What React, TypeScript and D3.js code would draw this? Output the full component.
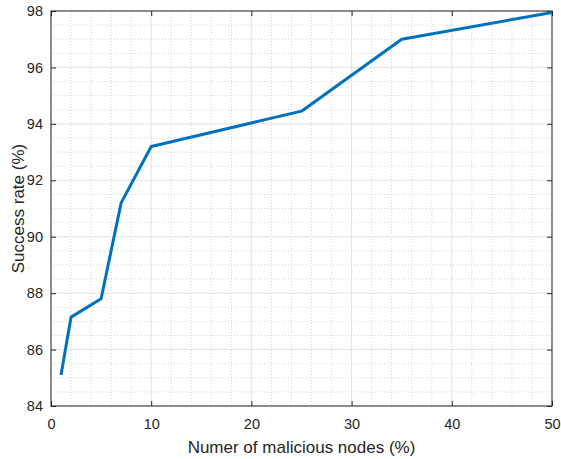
import React, { useEffect, useRef } from 'react';
import * as d3 from 'd3';

const maliciousNodes = [1, 2, 5, 7, 10, 25, 35, 50];
const successRate = [85.1, 87.15, 87.8, 91.2, 93.2, 94.45, 97.0, 97.95];
const xTicks = [0, 10, 20, 30, 40, 50];
const yTicks = [84, 86, 88, 90, 92, 94, 96, 98];

const App = () => {
  const svgRef = useRef<SVGSVGElement>(null);

  useEffect(() => {
    const width = 561;
    const height = 459;
    const margin = { top: 11, right: 9, bottom: 53, left: 51 };
    const w = width - margin.left - margin.right;
    const h = height - margin.top - margin.bottom;

    d3.select(svgRef.current).selectAll('*').remove();
    const svg = d3.select(svgRef.current)
      .attr('width', width)
      .attr('height', height)
      .append('g')
      .attr('transform', `translate(${margin.left},${margin.top})`);

    const x = d3.scaleLinear().domain([0, 50]).range([0, w]);
    const y = d3.scaleLinear().domain([84, 98]).range([h, 0]);

    // minor grid (dotted)
    const xMinor = d3.range(0, 50.01, 2).filter(v => v % 10 !== 0);
    const yMinor = d3.range(84, 98.01, 0.5).filter(v => v % 2 !== 0);
    svg.append('g').selectAll('line').data(xMinor).enter().append('line')
      .attr('x1', d => x(d)).attr('x2', d => x(d)).attr('y1', 0).attr('y2', h)
      .attr('stroke', '#d4d4d4').attr('stroke-width', 1).attr('stroke-dasharray', '1,2');
    svg.append('g').selectAll('line').data(yMinor).enter().append('line')
      .attr('x1', 0).attr('x2', w).attr('y1', d => y(d)).attr('y2', d => y(d))
      .attr('stroke', '#d4d4d4').attr('stroke-width', 1).attr('stroke-dasharray', '1,2');

    // major grid
    svg.append('g').selectAll('line').data(xTicks).enter().append('line')
      .attr('x1', d => x(d)).attr('x2', d => x(d)).attr('y1', 0).attr('y2', h)
      .attr('stroke', '#e3e3e3').attr('stroke-width', 1);
    svg.append('g').selectAll('line').data(yTicks).enter().append('line')
      .attr('x1', 0).attr('x2', w).attr('y1', d => y(d)).attr('y2', d => y(d))
      .attr('stroke', '#e3e3e3').attr('stroke-width', 1);

    // axes, ticks inside, box on
    const font = "'Liberation Sans', Arial, sans-serif";
    const axisColor = '#262626';
    const styleAxis = (g: any) => {
      g.select('.domain').remove();
      g.selectAll('.tick line').attr('stroke', axisColor);
      g.selectAll('.tick text').attr('fill', axisColor).style('font-family', font).style('font-size', '14.5px');
    };

    svg.append('g').attr('transform', `translate(0,${h})`)
      .call(d3.axisBottom(x).tickValues(xTicks).tickSizeInner(-5).tickSizeOuter(0).tickPadding(13))
      .call(styleAxis);
    svg.append('g')
      .call(d3.axisTop(x).tickValues(xTicks).tickSizeInner(-5).tickSizeOuter(0).tickFormat(() => ''))
      .call(styleAxis);
    svg.append('g')
      .call(d3.axisLeft(y).tickValues(yTicks).tickSizeInner(-5).tickSizeOuter(0).tickPadding(8))
      .call(styleAxis);
    svg.append('g').attr('transform', `translate(${w},0)`)
      .call(d3.axisRight(y).tickValues(yTicks).tickSizeInner(-5).tickSizeOuter(0).tickFormat(() => ''))
      .call(styleAxis);

    svg.append('rect')
      .attr('x', 0).attr('y', 0).attr('width', w).attr('height', h)
      .attr('fill', 'none').attr('stroke', axisColor).attr('stroke-width', 1);

    // data line
    const data = maliciousNodes.map((n, i) => ({ n, r: successRate[i] }));
    const line = d3.line<{ n: number; r: number }>()
      .x(d => x(d.n))
      .y(d => y(d.r));
    svg.append('path')
      .datum(data)
      .attr('d', line)
      .attr('fill', 'none')
      .attr('stroke', '#0072BD')
      .attr('stroke-width', 3)
      .attr('stroke-linejoin', 'round');

    // labels
    svg.append('text')
      .attr('x', w / 2).attr('y', h + 47)
      .attr('text-anchor', 'middle')
      .attr('fill', axisColor)
      .style('font-family', font).style('font-size', '17px')
      .text('Numer of malicious nodes (%)');
    svg.append('text')
      .attr('transform', `translate(${-27},${h / 2}) rotate(-90)`)
      .attr('text-anchor', 'middle')
      .attr('fill', axisColor)
      .style('font-family', font).style('font-size', '17px')
      .text('Success rate (%)');
  }, []);

  return (
    <div style={{ position: 'absolute', left: 0, top: 0, width: 561, height: 459, background: '#fff' }}>
      <svg ref={svgRef}></svg>
    </div>
  );
};

export default App;
